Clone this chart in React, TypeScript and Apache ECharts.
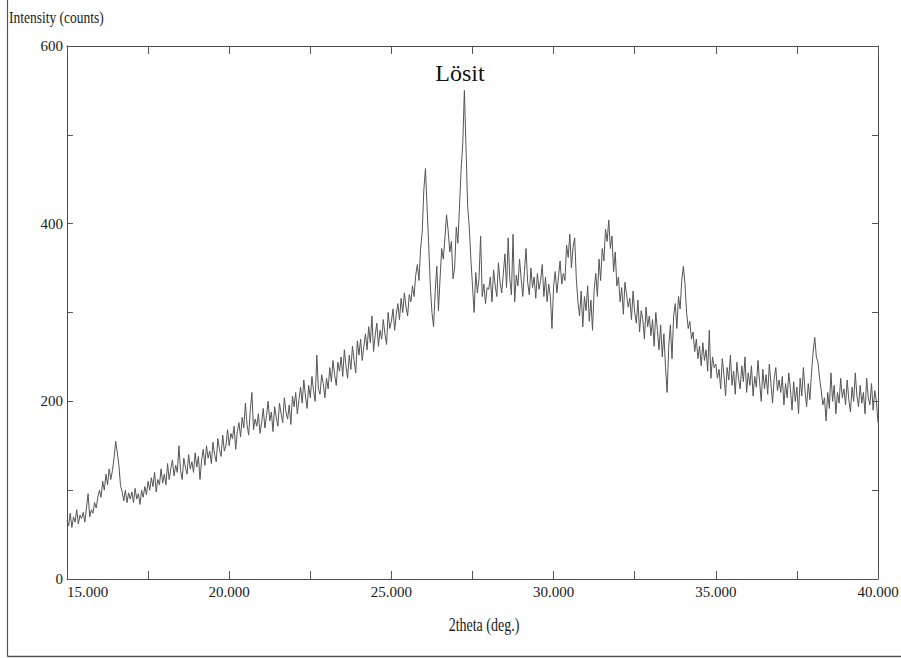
import React, { useEffect, useRef } from 'react';
import * as echarts from 'echarts';

// 2theta sampling: start angle and step (deg.)
const startAngle = 15;
const stepAngle = 0.05;

const counts15 = [66, 60, 74, 58, 70, 64, 78, 62, 72, 68, 75, 64, 80, 96, 70, 78, 74, 86, 80, 92];
const counts16 = [100, 92, 110, 100, 118, 106, 124, 112, 122, 136, 155, 142, 128, 105, 98, 88, 100, 86, 97, 90];
const counts17 = [98, 86, 102, 90, 96, 84, 100, 92, 104, 95, 110, 100, 114, 104, 120, 98, 112, 106, 124, 108];
const counts18 = [118, 106, 130, 112, 124, 134, 116, 128, 120, 150, 122, 112, 136, 126, 118, 140, 124, 132, 120, 142];
const counts19 = [126, 138, 112, 134, 146, 128, 150, 136, 144, 130, 154, 140, 132, 158, 146, 138, 162, 144, 150, 168];
const counts20 = [150, 164, 158, 172, 146, 166, 176, 160, 182, 170, 198, 174, 162, 190, 210, 168, 180, 172, 186, 164];
const counts21 = [176, 192, 170, 184, 200, 178, 188, 166, 194, 182, 172, 198, 186, 176, 204, 188, 180, 196, 174, 206];
const counts22 = [194, 210, 186, 202, 216, 198, 224, 206, 192, 218, 204, 228, 212, 200, 252, 214, 208, 230, 220, 204];
const counts23 = [226, 214, 238, 222, 246, 230, 218, 244, 234, 250, 228, 258, 240, 226, 252, 236, 262, 246, 232, 268];
const counts24 = [252, 270, 246, 262, 276, 258, 284, 266, 296, 256, 274, 288, 262, 280, 270, 292, 276, 264, 300, 282];
const counts25 = [290, 304, 280, 298, 310, 292, 316, 300, 322, 306, 296, 320, 312, 330, 318, 342, 354, 336, 372, 390];
const counts26 = [438, 462, 418, 376, 330, 300, 284, 324, 352, 302, 338, 372, 360, 384, 410, 392, 368, 380, 338, 350];
const counts27 = [396, 378, 420, 462, 490, 550, 486, 420, 396, 360, 330, 300, 345, 322, 338, 386, 318, 332, 310, 328];
const counts28 = [326, 340, 312, 348, 330, 318, 356, 334, 322, 344, 366, 328, 384, 338, 320, 388, 312, 342, 330, 360];
const counts29 = [338, 318, 346, 372, 334, 320, 350, 328, 340, 316, 344, 326, 336, 354, 318, 340, 312, 332, 318, 282];
const counts30 = [330, 346, 322, 340, 358, 332, 344, 336, 376, 362, 388, 350, 374, 384, 338, 312, 296, 324, 284, 318];
const counts31 = [302, 330, 290, 314, 280, 326, 344, 318, 360, 336, 372, 358, 394, 380, 404, 372, 386, 346, 368, 330];
const counts32 = [340, 312, 328, 298, 334, 320, 306, 316, 292, 324, 300, 288, 314, 278, 302, 292, 270, 306, 284, 296];
const counts33 = [274, 292, 262, 300, 280, 258, 286, 250, 276, 238, 210, 262, 286, 248, 296, 310, 282, 318, 304, 336];
const counts34 = [352, 332, 300, 282, 290, 270, 278, 256, 270, 248, 262, 240, 266, 246, 258, 234, 280, 226, 250, 238];
const counts35 = [242, 226, 236, 214, 248, 230, 206, 238, 224, 252, 218, 234, 208, 244, 226, 214, 240, 222, 250, 210];
const counts36 = [232, 218, 240, 206, 228, 216, 246, 222, 200, 236, 214, 230, 208, 242, 220, 198, 226, 238, 212, 224];
const counts37 = [210, 228, 196, 220, 204, 232, 214, 190, 222, 200, 216, 186, 226, 206, 238, 212, 194, 220, 202, 232];
const counts38 = [255, 272, 250, 244, 226, 212, 196, 204, 178, 210, 192, 232, 200, 218, 186, 210, 198, 226, 204, 214];
const counts39 = [196, 224, 202, 188, 216, 200, 232, 206, 194, 218, 198, 210, 186, 226, 204, 196, 220, 190, 212, 200];
const counts40 = [176];

const xMin = 15;
const xMax = 40;
const xTickStep = 2.5;
const yMin = 0;
const yMax = 600;
const yTickStep = 100;

const yTitle = 'Intensity (counts)';
const xTitle = '2theta (deg.)';
const peakLabel = 'Lösit';

export default function App() {
  const ref = useRef<HTMLDivElement>(null);

  useEffect(() => {
    if (!ref.current) return;
    const chart = echarts.init(ref.current, null, { renderer: 'svg' });
    const all = [
      ...counts15, ...counts16, ...counts17, ...counts18, ...counts19,
      ...counts20, ...counts21, ...counts22, ...counts23, ...counts24,
      ...counts25, ...counts26, ...counts27, ...counts28, ...counts29,
      ...counts30, ...counts31, ...counts32, ...counts33, ...counts34,
      ...counts35, ...counts36, ...counts37, ...counts38, ...counts39,
      ...counts40,
    ];
    const data = all.map((v, i) => [+(startAngle + i * stepAngle).toFixed(2), v]);
    const fontFamily = '"Liberation Serif", "Times New Roman", serif';
    const axisColor = '#4a4a4a';

    const xCommon = {
      type: 'value',
      min: xMin,
      max: xMax,
      interval: xTickStep,
      splitLine: { show: false },
      axisLine: { show: true, onZero: false, lineStyle: { color: axisColor, width: 1 } },
      axisTick: { show: true, inside: true, length: 8, lineStyle: { color: '#555', width: 1 } },
    };
    const yCommon = {
      type: 'value',
      min: yMin,
      max: yMax,
      interval: yTickStep,
      splitLine: { show: false },
      axisLine: { show: true, onZero: false, lineStyle: { color: axisColor, width: 1 } },
      axisTick: { show: true, inside: true, length: 6, lineStyle: { color: '#555', width: 1 } },
    };

    chart.setOption({
      animation: false,
      backgroundColor: '#ffffff',
      grid: { left: 67, right: 23, top: 46, bottom: 79, containLabel: false, outerBoundsMode: 'none' },
      xAxis: [
        {
          ...xCommon,
          position: 'bottom',
          axisLabel: {
            show: true,
            formatter: (v: number) => (Math.abs(v % 5) < 1e-6 ? v.toFixed(3) : ''),
            fontFamily,
            fontSize: 15,
            color: '#1a1a1a',
            margin: 5,
            alignMinLabel: 'left',
            showMinLabel: true,
            showMaxLabel: true,
          },
        },
        { ...xCommon, position: 'top', axisLabel: { show: false } },
      ],
      yAxis: [
        {
          ...yCommon,
          position: 'left',
          axisLabel: {
            show: true,
            formatter: (v: number) => (v % 200 === 0 ? String(v) : ''),
            fontFamily,
            fontSize: 15,
            color: '#1a1a1a',
            margin: 4,
            showMinLabel: true,
            showMaxLabel: true,
          },
        },
        { ...yCommon, position: 'right', axisLabel: { show: false } },
      ],
      series: [
        {
          type: 'line',
          xAxisIndex: 0,
          yAxisIndex: 0,
          data,
          symbol: 'none',
          showSymbol: false,
          lineStyle: { color: '#555555', width: 1 },
        },
      ],
      graphic: [
        {
          type: 'text',
          x: 9,
          y: 17,
          scaleY: 1.3,
          style: {
            text: yTitle,
            fill: '#1a1a1a',
            fontSize: 13.5,
            fontFamily,
            align: 'left',
            verticalAlign: 'middle',
            textAlign: 'left',
            textVerticalAlign: 'middle',
          },
        },
        {
          type: 'text',
          x: 484,
          y: 625,
          scaleY: 1.3,
          style: {
            text: xTitle,
            fill: '#1a1a1a',
            fontSize: 14,
            fontFamily,
            align: 'center',
            verticalAlign: 'middle',
            textAlign: 'center',
            textVerticalAlign: 'middle',
          },
        },
        {
          type: 'text',
          x: 460,
          y: 73,
          style: {
            text: peakLabel,
            fill: '#111',
            fontSize: 24,
            fontFamily,
            align: 'center',
            verticalAlign: 'middle',
            textAlign: 'center',
            textVerticalAlign: 'middle',
          },
        },
        {
          type: 'line',
          shape: { x1: 7.5, y1: 0, x2: 7.5, y2: 656.5 },
          style: { stroke: '#555', lineWidth: 1.2 },
        },
        {
          type: 'line',
          shape: { x1: 7.5, y1: 656.5, x2: 901, y2: 656.5 },
          style: { stroke: '#555', lineWidth: 1.5 },
        },
      ],
    });

    return () => chart.dispose();
  }, []);

  return (
    <div
      ref={ref}
      style={{ position: 'fixed', left: 0, top: 0, width: 901, height: 658, background: '#fff' }}
    />
  );
}
